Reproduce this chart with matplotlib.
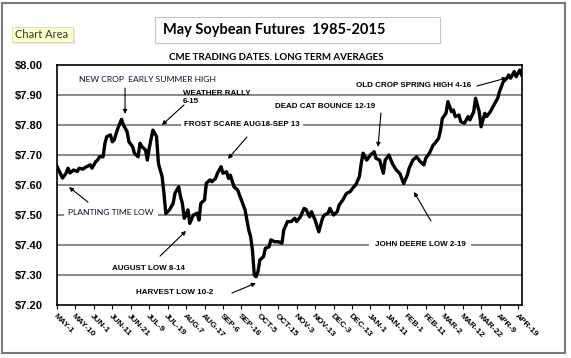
### May soybean futures seasonal chart ####
import matplotlib
matplotlib.use("Agg")
import matplotlib.pyplot as plt
from matplotlib.patches import Rectangle

### data: trading day number (from May-1) and average price ####
days = [0, 3, 5, 6, 7, 9, 11, 12, 14, 16, 18, 19, 21, 22, 23, 25, 26, 27, 29, 30,
        31, 33, 35, 36, 38, 39, 41, 42, 44, 45, 46, 48, 49, 50, 52, 54, 55, 57, 58, 59,
        61, 63, 64, 66, 67, 68, 69, 70, 71, 72, 74, 76, 77, 78, 80, 81, 83, 84, 86, 87,
        89, 90, 92, 93, 94, 96, 98, 100, 102, 104, 105, 106, 107, 108, 109, 110, 112, 113, 115, 116,
        118, 120, 122, 123, 125, 127, 129, 130, 132, 134, 135, 137, 138, 140, 142, 144, 145, 147, 148, 150,
        152, 153, 155, 157, 159, 161, 162, 164, 165, 166, 168, 170, 172, 173, 175, 177, 178, 180, 182, 184,
        186, 188, 190, 191, 193, 195, 197, 199, 200, 202, 204, 205, 207, 208, 209, 211, 212, 214, 215, 216,
        218, 219, 221, 223, 224, 226, 227, 229, 230, 232, 233, 235, 237, 239, 240, 241, 242, 244, 245, 246,
        248, 249, 251, 252]
price = [7.662, 7.623, 7.640, 7.656, 7.640, 7.650, 7.645, 7.656, 7.653, 7.661, 7.667, 7.656, 7.678, 7.683, 7.694, 7.694, 7.739, 7.761, 7.767, 7.744,
         7.750, 7.789, 7.819, 7.800, 7.778, 7.744, 7.728, 7.706, 7.694, 7.739, 7.728, 7.717, 7.683, 7.722, 7.783, 7.761, 7.672, 7.628, 7.573, 7.505,
         7.517, 7.539, 7.573, 7.594, 7.561, 7.539, 7.489, 7.500, 7.517, 7.472, 7.500, 7.506, 7.483, 7.539, 7.550, 7.606, 7.617, 7.611, 7.622, 7.639,
         7.661, 7.639, 7.644, 7.622, 7.633, 7.594, 7.583, 7.550, 7.517, 7.450, 7.428, 7.383, 7.300, 7.294, 7.311, 7.350, 7.361, 7.389, 7.394, 7.417,
         7.411, 7.411, 7.406, 7.450, 7.478, 7.478, 7.489, 7.478, 7.494, 7.522, 7.519, 7.494, 7.511, 7.483, 7.444, 7.489, 7.500, 7.506, 7.522, 7.500,
         7.511, 7.533, 7.550, 7.572, 7.578, 7.594, 7.600, 7.628, 7.672, 7.706, 7.683, 7.700, 7.711, 7.689, 7.683, 7.639, 7.683, 7.700, 7.670, 7.650,
         7.638, 7.605, 7.633, 7.656, 7.683, 7.694, 7.678, 7.667, 7.689, 7.706, 7.733, 7.739, 7.756, 7.783, 7.822, 7.839, 7.878, 7.844, 7.850, 7.828,
         7.833, 7.811, 7.806, 7.828, 7.817, 7.844, 7.889, 7.844, 7.794, 7.839, 7.828, 7.844, 7.867, 7.889, 7.911, 7.928, 7.944, 7.956, 7.967, 7.956,
         7.978, 7.961, 7.983, 7.967]

tick_days = list(range(0, 251, 10))
tick_labels = ["MAY-1", "MAY-10", "JUN-1", "JUN-11", "JUN-21", "JUL-9", "JUL-19", "AUG-7", "AUG-17",
               "SEP-6", "SEP-16", "OCT-5", "OCT-15", "NOV-3", "NOV-13", "DEC-3", "DEC-13", "JAN-1",
               "JAN-11", "FEB-1", "FEB-11", "MAR-2", "MAR-12", "MAR-22", "APR-9", "APR-19"]
y_ticks = [7.2, 7.3, 7.4, 7.5, 7.6, 7.7, 7.8, 7.9, 8.0]

W, H = 571, 358
fig = plt.figure(figsize=(W / 100, H / 100), dpi=100)
fig.patch.set_facecolor("white")

ARIAL = "Liberation Sans"
CALIBRI = "Lato"

# chart area border
fig.patches.append(Rectangle((2 / W, 1 - 353 / H), 563 / W, 350 / H, transform=fig.transFigure,
                             fill=False, ec="#7a7a7a", lw=1.5))

# title box
fig.patches.append(Rectangle((155 / W, 1 - 43 / H), 285 / W, 26 / H, transform=fig.transFigure,
                             fc="white", ec="#c4c4c4", lw=0.8))
fig.text(163 / W, 1 - 30 / H, "May Soybean Futures  1985-2015", family=CALIBRI, weight="bold",
         fontsize=10.5, va="center", ha="left")
fig.text(276 / W, 1 - 57 / H, "CME TRADING DATES. LONG TERM AVERAGES", family=CALIBRI, weight="bold",
         fontsize=7, va="center", ha="center")

# "Chart Area" tooltip
fig.patches.append(Rectangle((14 / W, 1 - 44 / H), 61 / W, 15 / H, transform=fig.transFigure,
                             fc="#d8d8d8", ec="none", alpha=0.6))
fig.patches.append(Rectangle((12 / W, 1 - 42 / H), 61 / W, 15 / H, transform=fig.transFigure,
                             fc="#ffffcc", ec="#d0d0b0", lw=0.5))
fig.text(15 / W, 1 - 34.5 / H, "Chart Area", family=CALIBRI, fontsize=8, color="#333333",
         va="center", ha="left")

### plot area ####
ax = fig.add_axes([57 / W, 1 - 305 / H, 465 / W, 240 / H])
ax.plot(days, price, color="black", lw=2.4, solid_joinstyle="round", zorder=3)
ax.set_xlim(0, 252.2)
ax.set_ylim(7.2, 8.0)

ax.set_yticks(y_ticks)
ax.set_yticklabels(["$%.2f" % v for v in y_ticks])
for v in y_ticks[1:-1]:
    ax.axhline(v, color="#8c8c8c", lw=1.5, zorder=1)
ax.tick_params(axis="y", length=0, pad=10)
for lab in ax.get_yticklabels():
    lab.set_fontfamily(ARIAL)
    lab.set_fontweight("bold")
    lab.set_fontsize(8)

ax.set_xticks(tick_days)
ax.set_xticklabels(tick_labels, rotation=-45, ha="left", rotation_mode="anchor")
ax.tick_params(axis="x", length=3, width=0.8, direction="out", pad=2.5)
for lab in ax.get_xticklabels():
    lab.set_fontfamily(ARIAL)
    lab.set_fontweight("bold")
    lab.set_fontsize(6)

for s in ax.spines.values():
    s.set_linewidth(1.2)
    s.set_color("black")

### annotations ####
arrow = dict(arrowstyle="-|>", lw=0.8, color="black", mutation_scale=6, shrinkA=0, shrinkB=0)
white = dict(fc="white", ec="none", pad=2)

ax.text(11.9, 7.95, "NEW CROP  EARLY SUMMER HIGH", family=CALIBRI, fontsize=6.1, color="#111133",
        va="center", ha="left")
ax.annotate("", xy=(36.9, 7.837), xytext=(36.9, 7.923), arrowprops=arrow)

ax.text(68.3, 7.892, "WEATHER RALLY\n6-15", family=ARIAL, weight="bold", fontsize=5.8,
        va="center", ha="left", linespacing=1.3)
ax.annotate("", xy=(56.9, 7.80), xytext=(68.9, 7.867), arrowprops=arrow)

ax.text(68.9, 7.80, "FROST SCARE AUG18-SEP 13", family=ARIAL, weight="bold", fontsize=5.8,
        va="center", ha="left", bbox=white, zorder=4)
ax.annotate("", xy=(92.7, 7.687), xytext=(103.0, 7.76), arrowprops=arrow)

ax.text(118.2, 7.86, "DEAD CAT BOUNCE 12-19", family=ARIAL, weight="bold", fontsize=5.8,
        va="center", ha="left")
ax.annotate("", xy=(174.1, 7.727), xytext=(175.7, 7.84), arrowprops=arrow)

ax.text(224.5, 7.933, "OLD CROP SPRING HIGH 4-16", family=ARIAL, weight="bold", fontsize=5.8,
        va="center", ha="right")
ax.annotate("", xy=(244.0, 7.957), xytext=(227.8, 7.93), arrowprops=arrow)

ax.text(6.0, 7.507, "PLANTING TIME LOW", family=CALIBRI, fontsize=6.1, color="#111133",
        va="center", ha="left", bbox=dict(fc="white", ec="none", pad=3), zorder=4)
ax.annotate("", xy=(6.5, 7.593), xytext=(16.8, 7.543), arrowprops=arrow)

ax.text(29.8, 7.323, "AUGUST LOW 8-14", family=ARIAL, weight="bold", fontsize=5.8,
        va="center", ha="left", bbox=white, zorder=4)
ax.annotate("", xy=(70.0, 7.447), xytext=(55.9, 7.363), arrowprops=arrow)

ax.text(42.8, 7.24, "HARVEST LOW 10-2", family=ARIAL, weight="bold", fontsize=5.8,
        va="center", ha="left")
ax.annotate("", xy=(107.9, 7.273), xytext=(94.9, 7.24), arrowprops=arrow)

ax.text(172.5, 7.403, "JOHN DEERE LOW 2-19", family=ARIAL, weight="bold", fontsize=5.8,
        va="center", ha="left", bbox=dict(fc="white", ec="none", pad=4), zorder=4)
ax.annotate("", xy=(193.6, 7.577), xytext=(202.8, 7.48), arrowprops=arrow)

fig.savefig("out.png", dpi=100)
